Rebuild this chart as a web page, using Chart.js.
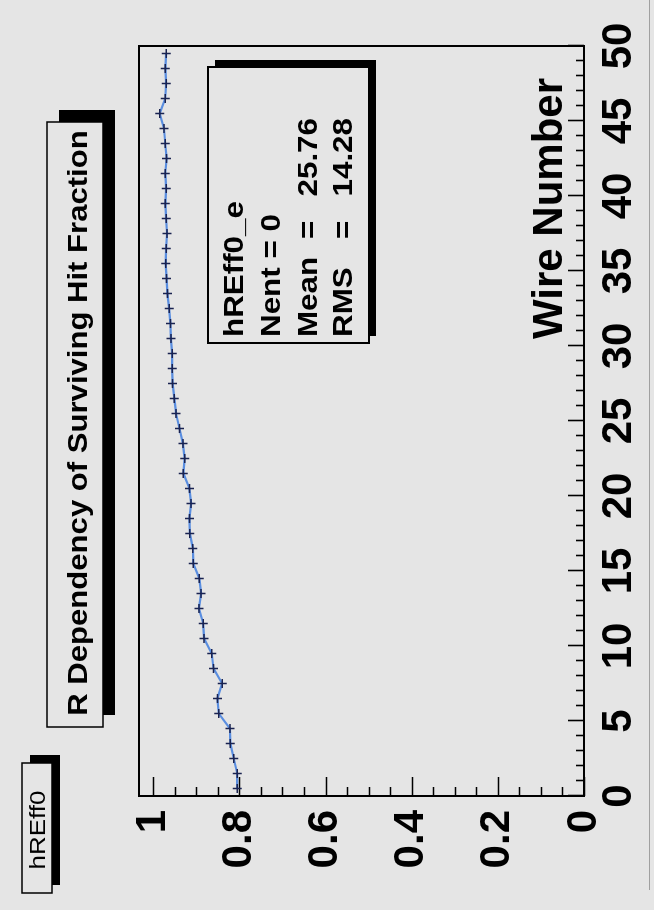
<!DOCTYPE html>
<html>
<head>
<meta charset="utf-8">
<script src="https://cdn.jsdelivr.net/npm/chart.js@4/dist/chart.umd.min.js"></script>
<style>
  html, body { margin: 0; padding: 0; background: #e5e5e5; overflow: hidden; }
  #page { position: relative; width: 654px; height: 910px; overflow: hidden; background: #e5e5e5; }
  /* the histogram is laid out landscape and turned a quarter turn counter-clockwise */
  #wrap { position: absolute; left: 0; top: 0; width: 910px; height: 654px;
          transform-origin: 0 0; transform: translate(0, 910px) rotate(-90deg); }
  canvas { display: block; }
</style>
</head>
<body>
<div id="page"><div id="wrap"><canvas id="c" width="910" height="654"></canvas></div></div>
<script>
// bin centres of the wire-number histogram (50 bins, 0..50)
const wireCenters = [0.5, 1.5, 2.5, 3.5, 4.5, 5.5, 6.5, 7.5, 8.5, 9.5,
  10.5, 11.5, 12.5, 13.5, 14.5, 15.5, 16.5, 17.5, 18.5, 19.5,
  20.5, 21.5, 22.5, 23.5, 24.5, 25.5, 26.5, 27.5, 28.5, 29.5,
  30.5, 31.5, 32.5, 33.5, 34.5, 35.5, 36.5, 37.5, 38.5, 39.5,
  40.5, 41.5, 42.5, 43.5, 44.5, 45.5, 46.5, 47.5, 48.5, 49.5];

// surviving hit fraction per wire bin
const survivingFraction = [0.805, 0.805, 0.813, 0.821, 0.822, 0.848, 0.851, 0.840, 0.860, 0.864,
  0.882, 0.884, 0.894, 0.889, 0.893, 0.907, 0.908, 0.915, 0.916, 0.912,
  0.916, 0.930, 0.927, 0.931, 0.939, 0.947, 0.951, 0.955, 0.956, 0.956,
  0.959, 0.960, 0.963, 0.967, 0.969, 0.971, 0.970, 0.968, 0.970, 0.972,
  0.970, 0.972, 0.969, 0.972, 0.975, 0.985, 0.972, 0.970, 0.972, 0.970];

const wireTicks = [0, 5, 10, 15, 20, 25, 30, 35, 40, 45, 50];
const fractionTicks = [0, 0.2, 0.4, 0.6, 0.8, 1];
const fractionTickLabels = ['0', '0.2', '0.4', '0.6', '0.8', '1'];

const histName = 'hREff0';
const titleText = 'R Dependency of Surviving Hit Fraction';
const xTitle = 'Wire Number';
const statsName = 'hREff0_e';
const statsEntries = 'Nent = 0';
const statsLabels = ['Mean', 'RMS'];
const statsValues = ['25.76', '14.28'];

const FONT = '"Liberation Sans", Arial, Helvetica, sans-serif';
const BG = '#e5e5e5';

function shadowBox(ctx, x, y, w, h, off, lw) {
  ctx.fillStyle = '#000';
  ctx.fillRect(x + off, y + off, w, h);
  ctx.fillStyle = BG;
  ctx.fillRect(x, y, w, h);
  ctx.strokeStyle = '#000';
  ctx.lineWidth = lw;
  ctx.strokeRect(x, y, w, h);
}

// text with a slight horizontal stretch, anchored by textAlign at (x, y)
function wideText(ctx, txt, x, y, sx) {
  ctx.save();
  ctx.translate(x, y);
  ctx.scale(sx, 1);
  ctx.fillText(txt, 0, 0);
  ctx.restore();
}

const rootStyle = {
  id: 'rootStyle',
  beforeDraw(chart) {
    const ctx = chart.ctx;
    ctx.save();
    ctx.fillStyle = BG;
    ctx.fillRect(0, 0, chart.width, chart.height);
    // pad border
    ctx.strokeStyle = '#a0a0a0';
    ctx.lineWidth = 1;
    ctx.beginPath();
    ctx.moveTo(20, 649.5);
    ctx.lineTo(chart.width, 649.5);
    ctx.stroke();
    ctx.restore();
  },
  beforeDatasetsDraw(chart) {
    const ctx = chart.ctx;
    const a = chart.chartArea;
    const xs = chart.scales.x, ys = chart.scales.y;
    ctx.save();
    // frame
    ctx.strokeStyle = '#000';
    ctx.lineWidth = 2;
    ctx.strokeRect(a.left, a.top, a.right - a.left, a.bottom - a.top);
    // inward tick marks
    ctx.lineWidth = 1.6;
    ctx.beginPath();
    for (let i = 0; i < wireTicks.length - 1; i++) {
      const step = (wireTicks[i + 1] - wireTicks[i]) / 5;
      for (let k = 0; k <= 5; k++) {
        const v = wireTicks[i] + k * step;
        const px = Math.round(xs.getPixelForValue(v)) + 0.5;
        const len = (k === 0 || k === 5) ? 16 : 8;
        ctx.moveTo(px, a.bottom);
        ctx.lineTo(px, a.bottom - len);
      }
    }
    for (let i = 0; i < fractionTicks.length - 1; i++) {
      const step = (fractionTicks[i + 1] - fractionTicks[i]) / 4;
      for (let k = 0; k <= 4; k++) {
        const v = fractionTicks[i] + k * step;
        const py = Math.round(ys.getPixelForValue(v)) + 0.5;
        const len = (k === 0 || k === 4) ? 19 : 9;
        ctx.moveTo(a.left, py);
        ctx.lineTo(a.left + len, py);
      }
    }
    ctx.stroke();
    ctx.restore();
  },
  afterDraw(chart) {
    const ctx = chart.ctx;
    ctx.save();
    ctx.textBaseline = 'alphabetic';

    // histogram name label
    shadowBox(ctx, 17, 22, 130, 30, 8, 1.5);
    ctx.fillStyle = '#000';
    ctx.font = '22px ' + FONT;
    ctx.textAlign = 'center';
    wideText(ctx, histName, 80, 45, 1.18);

    // title box
    shadowBox(ctx, 183, 47, 605, 56, 12, 1.5);
    ctx.fillStyle = '#000';
    ctx.font = 'bold 28px ' + FONT;
    ctx.textAlign = 'center';
    wideText(ctx, titleText, 487, 87, 1.11);

    // statistics box
    shadowBox(ctx, 567, 208, 276, 161, 7, 2);
    ctx.fillStyle = '#000';
    ctx.font = 'bold 28px ' + FONT;
    ctx.textAlign = 'left';
    wideText(ctx, statsName, 573, 243, 1.12);
    wideText(ctx, statsEntries, 573, 280, 1.12);
    for (let i = 0; i < statsLabels.length; i++) {
      const y = 317 + i * 35;
      ctx.textAlign = 'left';
      wideText(ctx, statsLabels[i], 573, y, 1.12);
      wideText(ctx, '=', 671, y, 1.12);
      ctx.textAlign = 'right';
      wideText(ctx, statsValues[i], 792, y, 1.12);
    }

    // x-axis title
    ctx.font = 'bold 42px ' + FONT;
    ctx.textAlign = 'right';
    ctx.fillText(xTitle, 832, 562);
    ctx.restore();
  }
};

const tickFont = { family: FONT, weight: 'bold', size: 42 };

new Chart(document.getElementById('c'), {
  type: 'line',
  data: {
    datasets: [{
      data: wireCenters.map((w, i) => ({ x: w, y: survivingFraction[i] })),
      borderColor: '#5a8ee0',
      borderWidth: 2.2,
      tension: 0,
      fill: false,
      pointStyle: 'cross',
      pointRadius: 4.5,
      pointBorderColor: '#1a2350',
      pointBorderWidth: 1.5,
      pointBackgroundColor: '#1a2350'
    }]
  },
  options: {
    responsive: false,
    animation: false,
    devicePixelRatio: 1,
    layout: { padding: { left: 0, top: 139, right: 46, bottom: 0 } },
    plugins: { legend: { display: false }, tooltip: { enabled: false } },
    scales: {
      x: {
        type: 'linear', min: 0, max: 50,
        afterBuildTicks: s => { s.ticks = wireTicks.map(v => ({ value: v })); },
        afterFit: s => { s.height = 70; s.paddingLeft = 0; s.paddingRight = 0; },
        grid: { display: false, drawTicks: false },
        border: { display: false },
        ticks: { font: tickFont, color: '#000', padding: 10, maxRotation: 0, autoSkip: false }
      },
      y: {
        type: 'linear', min: 0, max: 1.033,
        afterBuildTicks: s => { s.ticks = fractionTicks.map(v => ({ value: v })); },
        afterFit: s => { s.width = 114; s.paddingTop = 0; s.paddingBottom = 0; },
        grid: { display: false, drawTicks: false },
        border: { display: false },
        ticks: {
          font: tickFont, color: '#000', padding: 14, autoSkip: false,
          callback: (v, i) => fractionTickLabels[i]
        }
      }
    }
  },
  plugins: [rootStyle]
});
</script>
</body>
</html>
